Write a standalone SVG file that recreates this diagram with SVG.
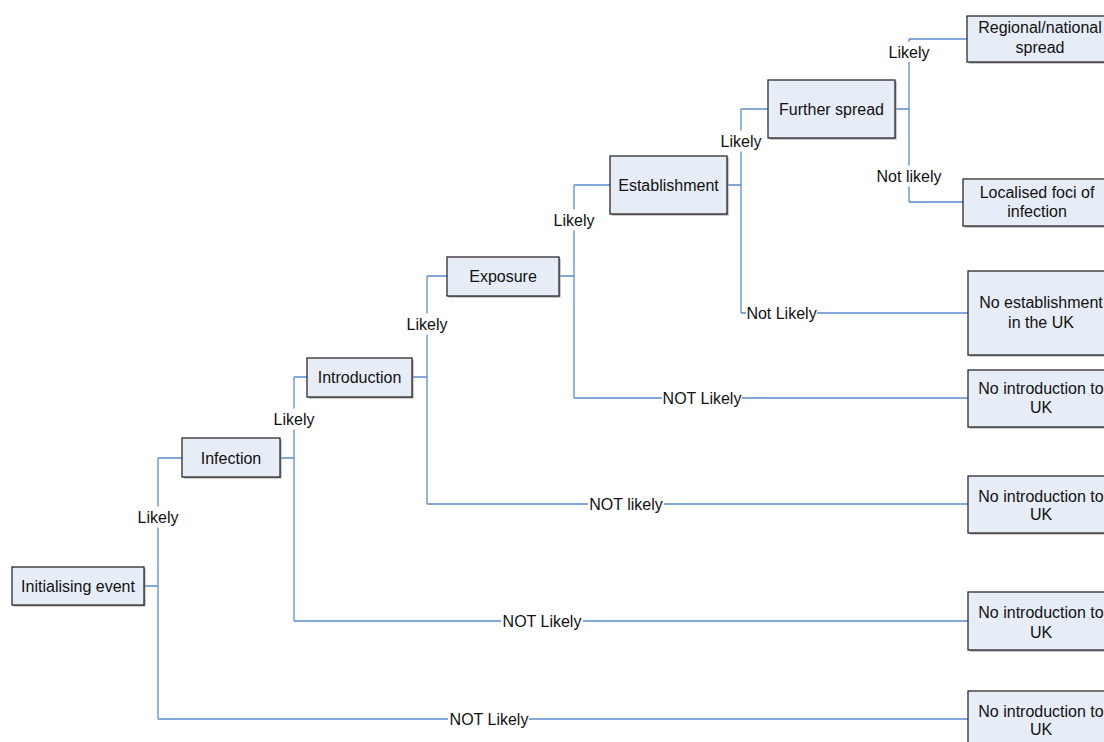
<svg xmlns="http://www.w3.org/2000/svg" width="1104" height="742" viewBox="0 0 1104 742">
<style>
.bg{fill:#ffffff}
.box{fill:#E7EDF7;stroke:#2b2b2b;stroke-width:1.3}
.sh{fill:#9a9a9a}
.t{font-family:"Liberation Sans",Arial,sans-serif;font-size:16px;fill:#111;text-anchor:middle}
.c{fill:none;stroke:#5A8AD0;stroke-width:1.3}
</style>
<rect class="bg" x="0" y="0" width="1104" height="742"/>
<g id="connectors">
<!-- Initialising event -->
<path class="c" d="M144,586H158M158,458V506.5M158,527.5V719M158,458H182M158,719H448M529,719H968"/>
<text class="t" x="158" y="523">Likely</text>
<text class="t" x="489" y="725">NOT Likely</text>
<!-- Infection -->
<path class="c" d="M280,458H294M294,377V408.5M294,429.5V621M294,377H307M294,621H501M583,621H968"/>
<text class="t" x="294" y="425">Likely</text>
<text class="t" x="542" y="627">NOT Likely</text>
<!-- Introduction -->
<path class="c" d="M412,377H427M427,276V313.5M427,334.5V504M427,276H447M427,504H588M664,504H968"/>
<text class="t" x="427" y="330">Likely</text>
<text class="t" x="626" y="510">NOT likely</text>
<!-- Exposure -->
<path class="c" d="M559,276H574M574,185V209.5M574,230.5V398M574,185H610M574,398H662M742,398H968"/>
<text class="t" x="574" y="226">Likely</text>
<text class="t" x="702" y="404">NOT Likely</text>
<!-- Establishment -->
<path class="c" d="M727,185H741M741,109V130.5M741,151.5V313M741,109H768M741,313H746M817,313H968"/>
<text class="t" x="741" y="147">Likely</text>
<text class="t" x="781.5" y="319">Not Likely</text>
<!-- Further spread -->
<path class="c" d="M895,109H909M909,39V42M909,62V165.5M909,186.5V202M909,39H967M909,202H963"/>
<text class="t" x="909" y="58">Likely</text>
<text class="t" x="909" y="182">Not likely</text>
</g>
<g id="n-init">
<rect class="sh" x="13.5" y="568.5" width="132" height="38"/>
<rect class="box" x="12" y="567" width="132" height="38"/>
<text class="t" x="78" y="592">Initialising event</text>
</g>
<g id="n-infection">
<rect class="sh" x="183.5" y="439.5" width="98" height="39"/>
<rect class="box" x="182" y="438" width="98" height="39"/>
<text class="t" x="231" y="464">Infection</text>
</g>
<g id="n-introduction">
<rect class="sh" x="308.5" y="359.5" width="105" height="39"/>
<rect class="box" x="307" y="358" width="105" height="39"/>
<text class="t" x="359.5" y="383">Introduction</text>
</g>
<g id="n-exposure">
<rect class="sh" x="448.5" y="258.5" width="112" height="39"/>
<rect class="box" x="447" y="257" width="112" height="39"/>
<text class="t" x="503" y="282">Exposure</text>
</g>
<g id="n-establishment">
<rect class="sh" x="611.5" y="157.5" width="117" height="58"/>
<rect class="box" x="610" y="156" width="117" height="58"/>
<text class="t" x="668.5" y="191">Establishment</text>
</g>
<g id="n-further">
<rect class="sh" x="769.5" y="81.5" width="127" height="58"/>
<rect class="box" x="768" y="80" width="127" height="58"/>
<text class="t" x="831.5" y="115">Further spread</text>
</g>
<g id="n-regional">
<rect class="sh" x="968.5" y="17.5" width="146" height="46"/>
<rect class="box" x="967" y="16" width="146" height="46"/>
<text class="t" x="1040" y="33">Regional/national</text>
<text class="t" x="1040" y="53">spread</text>
</g>
<g id="n-localised">
<rect class="sh" x="964.5" y="180.5" width="148" height="47"/>
<rect class="box" x="963" y="179" width="148" height="47"/>
<text class="t" x="1037" y="198">Localised foci of</text>
<text class="t" x="1037" y="217">infection</text>
</g>
<g id="n-noestab">
<rect class="sh" x="969.5" y="272.5" width="146" height="84"/>
<rect class="box" x="968" y="271" width="146" height="84"/>
<text class="t" x="1041" y="308">No establishment</text>
<text class="t" x="1041" y="328">in the UK</text>
</g>
<g id="n-nointro1">
<rect class="sh" x="969.5" y="371.5" width="146" height="57"/>
<rect class="box" x="968" y="370" width="146" height="57"/>
<text class="t" x="1041" y="394">No introduction to</text>
<text class="t" x="1041" y="413">UK</text>
</g>
<g id="n-nointro2">
<rect class="sh" x="969.5" y="477.5" width="146" height="57"/>
<rect class="box" x="968" y="476" width="146" height="57"/>
<text class="t" x="1041" y="502">No introduction to</text>
<text class="t" x="1041" y="520">UK</text>
</g>
<g id="n-nointro3">
<rect class="sh" x="969.5" y="593.5" width="146" height="58"/>
<rect class="box" x="968" y="592" width="146" height="58"/>
<text class="t" x="1041" y="618">No introduction to</text>
<text class="t" x="1041" y="638">UK</text>
</g>
<g id="n-nointro4">
<rect class="sh" x="969.5" y="692.5" width="146" height="58"/>
<rect class="box" x="968" y="691" width="146" height="58"/>
<text class="t" x="1041" y="717">No introduction to</text>
<text class="t" x="1041" y="735">UK</text>
</g>
</svg>
